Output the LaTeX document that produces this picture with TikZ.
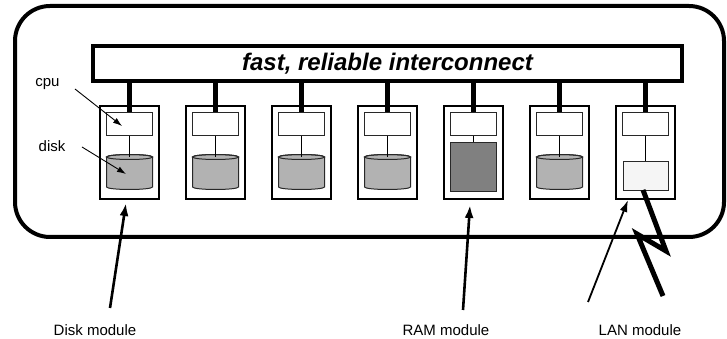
\documentclass[tikz,border=0pt]{standalone}
\usepackage{fontspec}
\setmainfont{Liberation Sans}
\usetikzlibrary{arrows.meta}
\definecolor{diskgray}{RGB}{178,178,178}
\definecolor{ramgray}{RGB}{128,128,128}
\definecolor{langray}{RGB}{245,245,245}
\definecolor{edgegray}{RGB}{40,40,40}
\tikzset{
  outerbox/.style={draw, line width=4pt, rounded corners=35pt},
  icbox/.style={draw, line width=3.2pt, minimum width=589pt, minimum height=35pt, inner sep=0pt,
     font=\fontsize{24}{28}\selectfont\bfseries\itshape},
  modbox/.style={draw, line width=2.8pt, minimum width=59pt, minimum height=93pt, inner sep=0pt},
  cpubox/.style={draw=edgegray, line width=1pt, minimum width=46pt, minimum height=23pt, inner sep=0pt, fill=white},
  rambox/.style={draw=edgegray, line width=1pt, fill=ramgray, minimum width=46pt, minimum height=49pt, inner sep=0pt},
  lanbox/.style={draw=edgegray, line width=1pt, fill=langray, minimum width=45pt, minimum height=29pt, inner sep=0pt},
  bus/.style={line width=5pt},
  wire/.style={line width=0.9pt},
  lbl/.style={font=\fontsize{15}{18}\selectfont, inner sep=0pt},
  smallarrow/.style={line width=0.9pt, -{Latex[length=9pt,width=6pt]}},
  bigarrow/.style={line width=2.6pt, -{Latex[length=13pt,width=9pt]}},
  midarrow/.style={line width=1.8pt, -{Latex[length=12pt,width=8pt]}},
  lanwire/.style={line width=5pt, miter limit=20},
}
\begin{document}
\begin{tikzpicture}[x=1pt,y=1pt]
\useasboundingbox (0,0) rectangle (727,339);
\draw[outerbox] (15,333) rectangle (724,102);
\node[icbox] (ic) at (387.5,275.5) {fast, reliable interconnect};
\foreach \k in {0,...,6} {
  \pgfmathsetmacro{\c}{129.5+86*\k}
  \node[modbox] (m\k) at (\c,186.5) {};
  \node[cpubox] (c\k) at (\c,214.5) {};
  \draw[bus] (ic.south -| c\k.north) -- (c\k.north);
}
% disks
\foreach \k in {0,1,2,3,5} {
  \pgfmathsetmacro{\c}{129.5+86*\k}
  \coordinate (d\k) at (\c,182);
  \draw[draw=edgegray, line width=1pt, fill=diskgray] (\c-23,182) -- (\c-23,152)
     arc[start angle=180,end angle=360,x radius=23pt,y radius=2.5pt]
     -- (\c+23,182) arc[start angle=0,end angle=180,x radius=23pt,y radius=2.5pt] -- cycle;
  \draw[draw=edgegray, line width=1pt] (d\k) ellipse [x radius=23pt, y radius=2.5pt];
  \draw[wire] (c\k.south) -- (d\k);
}
% RAM
\node[rambox] (ram) at (473.5,171.5) {};
\draw[wire] (c4.south) -- (ram.north);
% LAN
\node[lanbox] (lan) at (645.5,162.5) {};
\draw[wire] (c6.south) -- (lan.north);
% LAN wire
\coordinate (w0) at (643,149);
\coordinate (w1) at (666,88);
\coordinate (w2) at (637,105);
\coordinate (w3) at (663,43);
\draw[lanwire] (w0) -- (w1) -- (w2) -- (w3);
% labels
\node[lbl] (cpulbl) at (47.5,255) {cpu};
\node[lbl] (disklbl) at (52,193) {disk};
\coordinate (cpuS) at (75,250);
\coordinate (cpuE) at (122,213);
\draw[smallarrow] (cpuS) -- (cpuE);
\coordinate (diskS) at (82,192);
\coordinate (diskE) at (126,165);
\draw[smallarrow] (diskS) -- (diskE);
\node[lbl] (dm) at (95,9) {Disk module};
\node[lbl] (rm) at (446,9) {RAM module};
\node[lbl] (lm) at (640,9) {LAN module};
\coordinate (dmS) at (110,31);
\coordinate (dmE) at (126,136);
\draw[bigarrow] (dmS) -- (dmE);
\coordinate (rmS) at (463,29);
\coordinate (rmE) at (470,134);
\draw[bigarrow] (rmS) -- (rmE);
\coordinate (lmS) at (588,37);
\coordinate (lmE) at (628,139);
\draw[midarrow] (lmS) -- (lmE);
\end{tikzpicture}
\end{document}
